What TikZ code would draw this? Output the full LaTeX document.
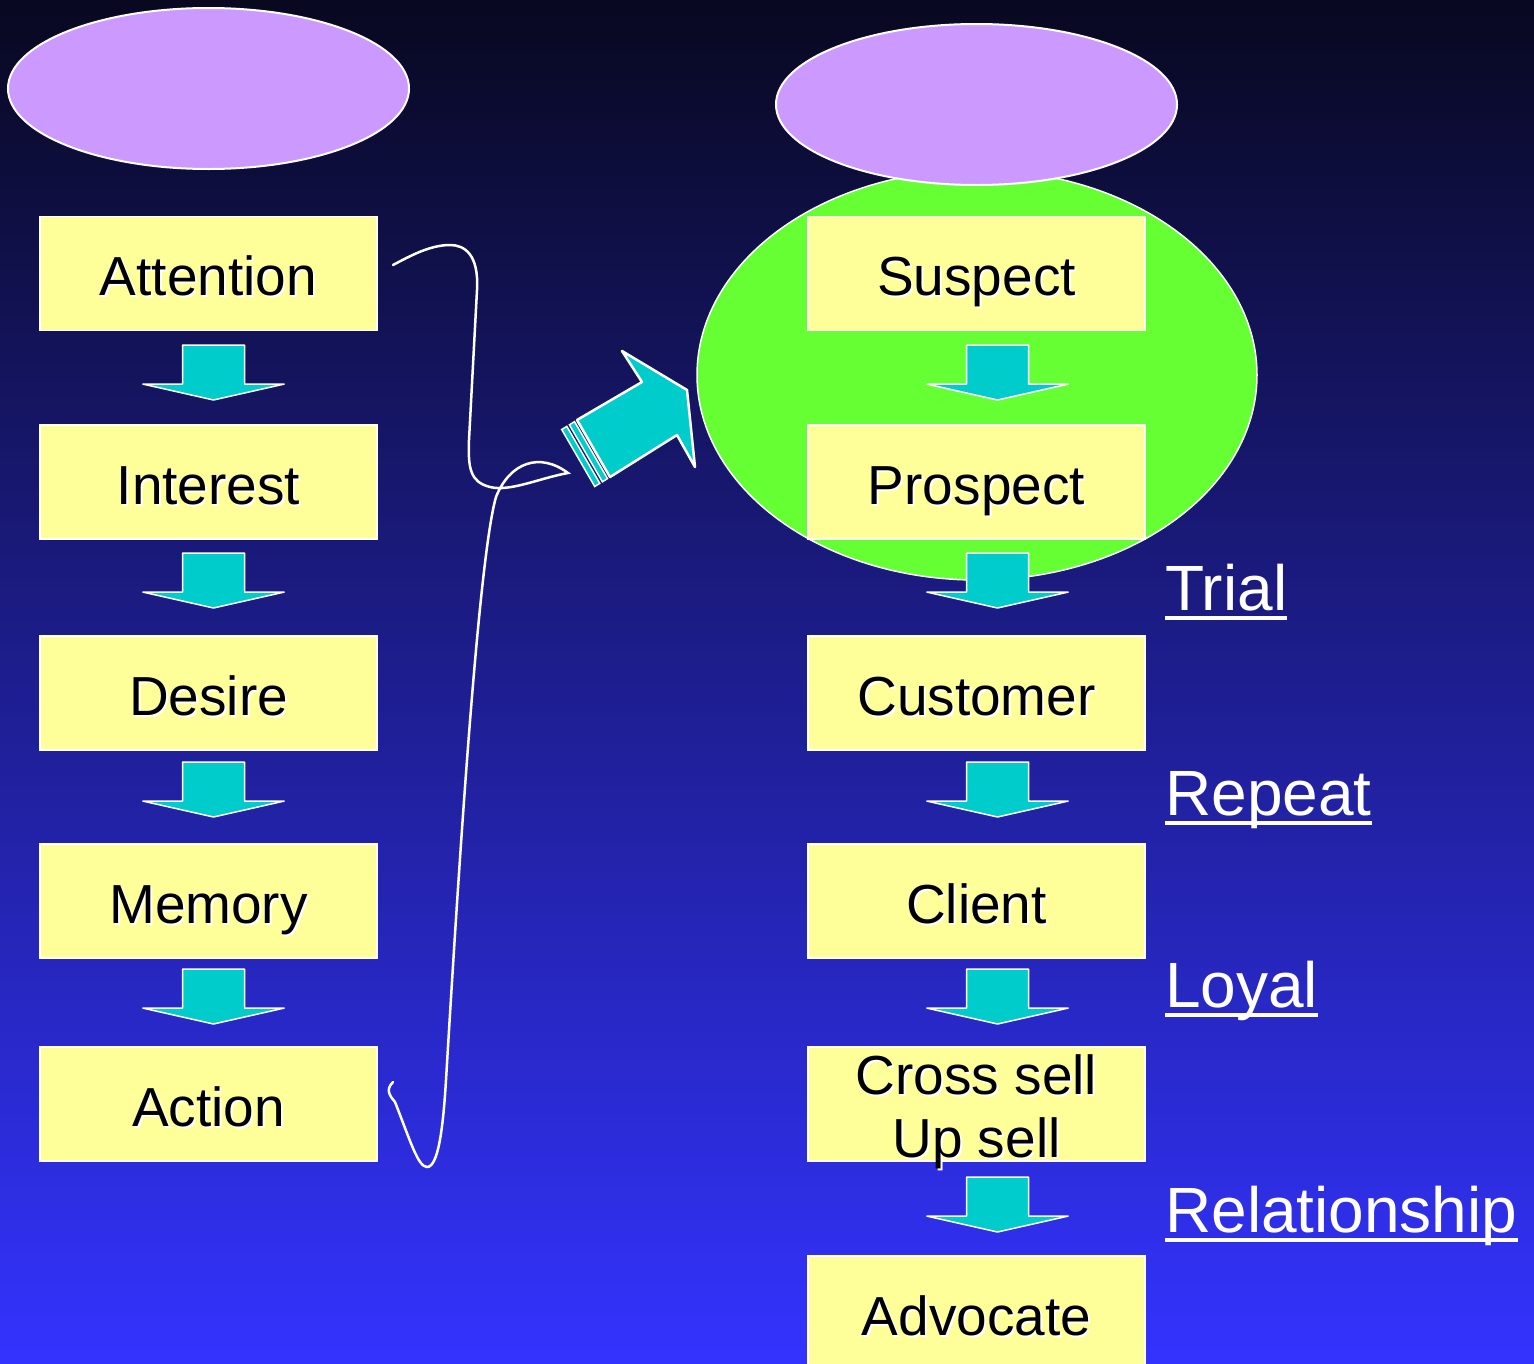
\documentclass[tikz,border=0pt]{standalone}
\usepackage{fontspec}
\setmainfont{Liberation Sans}
\usetikzlibrary{calc,shapes.geometric}
\definecolor{boxyellow}{HTML}{FFFF99}
\definecolor{arrowcyan}{HTML}{00CCCC}
\definecolor{zonegreen}{HTML}{66FF33}
\definecolor{goalpurple}{HTML}{CC99FF}
\definecolor{bgtop}{RGB}{8,8,32}
\definecolor{bgbottom}{RGB}{51,51,255}
\newcommand\shd[1]{\makebox[0pt][l]{\hspace{2pt}\raisebox{-2pt}{\textcolor{white}{#1}}}#1}
\tikzset{
  stage/.style={draw=white, line width=1.5pt, fill=boxyellow, minimum width=337pt, minimum height=114pt, inner sep=0pt},
  stagetext/.style={anchor=base, inner sep=0pt, font=\fontsize{55}{63}\selectfont, text=black},
  sidelabel/.style={anchor=base west, inner sep=0pt, font=\fontsize{64}{72}\selectfont, text=white},
  goal/.style={ellipse, draw=white, line width=2pt, fill=goalpurple, minimum width=401pt, minimum height=161pt, inner sep=0pt},
  uline/.style={white, line width=3.5pt},
  wire/.style={white, line width=2.5pt, line cap=round},
  pics/blockdown/.style={code={
    \draw[fill=arrowcyan, draw=white, line width=1.5pt, line join=bevel]
      (-31,0) -- (31,0) -- (31,39) -- (71,39) -- (0,55) -- (-71,39) -- (-31,39) -- cycle;}}
}
\begin{document}
\begin{tikzpicture}[x=1pt,y=-1pt]
\useasboundingbox (0,0) rectangle (1534,1363);
\clip (0,0) rectangle (1534,1363);
\shade[top color=bgtop, bottom color=bgbottom] (0,0) rectangle (1534,1363);

% green zone
\node (zone) [ellipse, draw=white, line width=1.5pt, fill=zonegreen, minimum width=560pt, minimum height=410pt, inner sep=0pt] at (977,375) {};

% purple ellipses
\node (goalL) [goal] at (208.5,88.5) {};
\node (goalR) [goal] at (976.5,104.5) {};

% left column boxes
\node (att) [stage] at (208.5,273.5) {};
\node (int) [stage] at (208.5,482) {};
\node (des) [stage] at (208.5,693) {};
\node (mem) [stage] at (208.5,901) {};
\node (act) [stage] at (208.5,1104) {};

% right column boxes
\node (sus) [stage] at (976.5,273.5) {};
\node (pro) [stage] at (976.5,482) {};
\node (cus) [stage] at (976.5,693) {};
\node (cli) [stage] at (976.5,901) {};
\node (crs) [stage] at (976.5,1104) {};
\node (adv) [stage] at (976.5,1313) {};

% box texts
\node[stagetext] at ([yshift=-80pt]att.north) {\shd{Attention}};
\node[stagetext] at ([yshift=-80pt]int.north) {\shd{Interest}};
\node[stagetext] at ([yshift=-80pt]des.north) {\shd{Desire}};
\node[stagetext] at ([yshift=-80pt]mem.north) {\shd{Memory}};
\node[stagetext] at ([yshift=-80pt]act.north) {\shd{Action}};
\node[stagetext] at ([yshift=-80pt]sus.north) {\shd{Suspect}};
\node[stagetext] at ([yshift=-80pt]pro.north) {\shd{Prospect}};
\node[stagetext] at ([yshift=-80pt]cus.north) {\shd{Customer}};
\node[stagetext] at ([yshift=-80pt]cli.north) {\shd{Client}};
\node[stagetext] at ([yshift=-48pt]crs.north) {\shd{Cross sell}};
\node[stagetext] at ([yshift=-111pt]crs.north) {\shd{Up sell}};
\node[stagetext] at ([yshift=-80pt]adv.north) {\shd{Advocate}};

% block arrows
\foreach \yy in {345,553,762,969} { \pic at (213.5,\yy) {blockdown}; }
\foreach \yy in {345,553,762,969,1177} { \pic at (997.5,\yy) {blockdown}; }

% big tilted arrow
\draw[fill=arrowcyan, draw=white, line width=2.5pt, line join=round]
  (577,420) -- (642,382) -- (622,351) -- (687,390) -- (695,467) -- (677,435) -- (610,477) -- cycle;
\draw[fill=arrowcyan, draw=white, line width=1.5pt]
  (574.5,421.6) -- (569.4,424.8) -- (602.4,481.8) -- (607.5,478.6) -- cycle;
\draw[fill=arrowcyan, draw=white, line width=1.5pt]
  (566.8,426.4) -- (561.7,429.5) -- (594.7,486.5) -- (599.8,483.4) -- cycle;

% hand-drawn wire
\coordinate (wireA) at (393,1082);
\coordinate (wireB) at (393,265);
\draw[wire] (wireA) .. controls (385,1090) and (390,1096) .. (395,1102)
  .. controls (410,1140) and (418,1167) .. (427,1167)
  .. controls (438,1167) and (443,1130) .. (446,1080)
  .. controls (458,880) and (478,560) .. (496,497)
  .. controls (510,462) and (540,452) .. (568,473)
  .. controls (540,478) and (510,492) .. (490,487)
  .. controls (470,482) and (468,468) .. (469,440)
  -- (477,290)
  .. controls (479,255) and (465,245) .. (450,245)
  .. controls (430,245) and (410,256) .. (wireB);

% side labels
\node[sidelabel] (trial) at (1165,610) {Trial};
\node[sidelabel] (repeat) at (1165,815) {Repeat};
\node[sidelabel] (loyal) at (1165,1007) {Loyal};
\node[sidelabel] (rel) at (1165,1232) {Relationship};
\foreach \n in {trial,repeat,loyal,rel} {
  \draw[uline] ([yshift=-8pt]\n.base west) -- ([yshift=-8pt]\n.base east);
}
\end{tikzpicture}
\end{document}
